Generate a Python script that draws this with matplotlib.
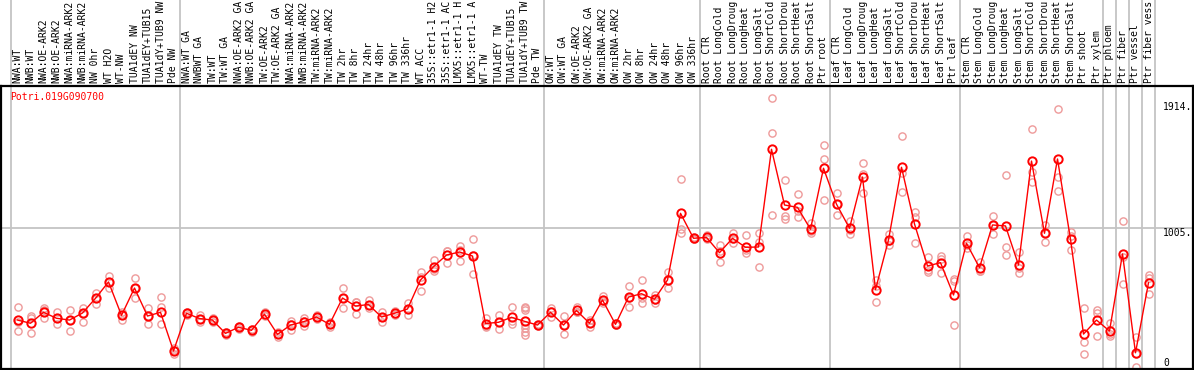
import matplotlib
matplotlib.use("Agg")
import matplotlib.pyplot as plt
import matplotlib.transforms as mtransforms

# sample names (truncated the way the chart shows them)
samples = [
    "NWA:WT", "NWB:WT", "NWA:OE-ARK2", "NWB:OE-ARK2", "NWA:miRNA-ARK2", "NWB:miRNA-ARK2",
    "NW 0hr", "WT H2O", "WT-NW", "TUA1dEY NW", "TUA1dEY+TUB15", "TUA1dY+TUB9 NW", "Pde NW",
    "NWA:WT GA", "NWBWT GA", "TW:WT", "TW:WT GA", "NWA:OE-ARK2 GA", "NWB:OE-ARK2 GA",
    "TW:OE-ARK2", "TW:OE-ARK2 GA", "NWA:miRNA-ARK2", "NWB:miRNA-ARK2", "TW:miRNA-ARK2",
    "TW:miRNA-ARK2", "TW 2hr", "TW 8hr", "TW 24hr", "TW 48hr", "TW 96hr", "TW 336hr",
    "WT ACC", "35S::etr1-1 H2", "35S::etr1-1 AC", "LMX5::etr1-1 H", "LMX5::etr1-1 A",
    "WT-TW", "TUA1dEY TW", "TUA1dEY+TUB15", "TUA1dY+TUB9 TW", "Pde TW",
    "OW:WT", "OW:WT GA", "OW:OE-ARK2", "OW:OE-ARK2 GA", "OW:miRNA-ARK2", "OW:miRNA-ARK2",
    "OW 2hr", "OW 8hr", "OW 24hr", "OW 48hr", "OW 96hr", "OW 336hr",
    "Root CTR", "Root LongCold", "Root LongDroug", "Root LongHeat", "Root LongSalt",
    "Root ShortCold", "Root ShortDrou", "Root ShortHeat", "Root ShortSalt", "Ptr root",
    "Leaf CTR", "Leaf LongCold", "Leaf LongDroug", "Leaf LongHeat", "Leaf LongSalt",
    "Leaf ShortCold", "Leaf ShortDrou", "Leaf ShortHeat", "Leaf ShortSalt", "Ptr leaf",
    "Stem CTR", "Stem LongCold", "Stem LongDroug", "Stem LongHeat", "Stem LongSalt",
    "Stem ShortCold", "Stem ShortDrou", "Stem ShortHeat", "Stem ShortSalt", "Ptr shoot",
    "Ptr xylem", "Ptr phloem", "Ptr fiber", "Ptr vessel", "Ptr fiber vess",
]

means = [
    343, 320, 399, 356, 343, 394, 500, 618, 377, 574, 372, 399, 120,
    392, 354, 343, 247, 291, 269, 385, 240, 307, 331, 365, 312, 502, 444, 455, 365,
    392, 423, 632, 728, 812, 834, 805, 318, 327, 363, 334, 307,
    399, 307, 412, 320, 488, 312, 509, 533, 493, 632, 1113, 933,
    939, 829, 933, 868, 870, 1575, 1173, 1156, 998, 1438,
    1179, 1005, 1375, 563, 921, 1445, 1036, 733, 757, 524,
    897, 721, 1029, 1022, 740, 1490, 969, 1505, 926, 242, 343,
    264, 820, 107, 612,
]

replicates = [
    [435, 266, 330], [374, 247, 358], [430, 356, 415], [399, 312, 358], [415, 266, 343],
    [432, 331, 394], [536, 457, 502], [661, 572, 618], [401, 343, 379], [644, 500, 574],
    [430, 312, 372], [507, 439, 312], [139, 96, 125],
    [401, 379, 396], [379, 329, 351], [358, 329, 343], [257, 235, 250], [300, 278, 295],
    [278, 257, 272], [401, 372, 383], [257, 221, 242], [338, 271, 312], [358, 300, 335],
    [379, 351, 365], [331, 291, 314], [572, 432, 502], [475, 385, 472], [488, 428, 449],
    [401, 331, 363], [408, 379, 390], [464, 379, 426], [692, 553, 651], [776, 699, 709],
    [843, 752, 841], [879, 771, 852], [928, 673, 814], [356, 295, 303], [379, 276, 326],
    [439, 315, 335], [439, 428, 416, 307, 284, 259, 235], [300, 314, 307],
    [428, 363, 406], [374, 242, 305], [435, 401, 400], [343, 295, 322], [517, 464, 483],
    [322, 307, 307], [589, 439, 499], [632, 464, 503], [524, 464, 491], [692, 572, 632],
    [1361, 998, 973], [930, 925, 945],
    [957, 926, 935], [884, 760, 843], [969, 901, 929], [957, 849, 825], [973, 908, 724],
    [1943, 1690, 1101], [1353, 1094, 1070], [1250, 1089, 1130], [1041, 969, 985],
    [1606, 1503, 1209],
    [1257, 1101, 1179], [1058, 962, 995], [1474, 1397, 1257], [632, 471, 586],
    [964, 884, 915], [1671, 1402, 1265], [1125, 1089, 897], [800, 692, 707],
    [805, 680, 786], [637, 307, 628],
    [949, 861, 881], [764, 699, 700], [1094, 964, 1029], [1389, 872, 812], [836, 716, 680],
    [1719, 1413, 1337], [1029, 908, 970], [1863, 1377, 1274], [980, 848, 950],
    [432, 183, 96], [416, 392, 228],
    [320, 228, 245], [1058, 800, 603], [223, 2, 96], [668, 644, 531],
]

# gray separators between tissue groups (between sample indices)
group_breaks = [-0.5, 12.5, 40.5, 52.5, 62.5, 72.5, 83.5, 84.5, 85.5, 86.5, 87.5]
scale_values = [1914, 1005, 0]
gene = "Potri.019G090700"

mono = "DejaVu Sans Mono"
W, H = 1194, 370
fig = plt.figure(figsize=(W / 100, H / 100), dpi=100)
top_px, bot_px = 85.5, 369
ax = fig.add_axes([1 / W, (H - bot_px) / H, 1192 / W, (bot_px - top_px) / H])

ax.set_xlim((1 - 17.5) / 13, (1193 - 17.5) / 13)
ax.set_ylim(-10, 2035)
ax.set_xticks([])
ax.set_yticks([])
for s in ax.spines.values():
    s.set_color("black")
    s.set_linewidth(1.6)

ext = 1 + top_px / (bot_px - top_px)
for b in group_breaks:
    ax.axvline(b, ymin=0, ymax=ext, clip_on=False, color="#c4c4c4", lw=1.3, zorder=0)
ax.axhline(1005, color="#c4c4c4", lw=1.3, zorder=0)

x = list(range(len(samples)))
for i, reps in enumerate(replicates):
    ax.plot([i] * len(reps), reps, "o", mfc="none", mec="#ee9a9a", ms=5.2, mew=1.0, zorder=2)
ax.plot(x, means, "-", color="#ff0000", lw=1.0, zorder=3)
ax.plot(x, means, "o", mfc="none", mec="#ff0000", ms=6, mew=1.4, zorder=4)

trans = mtransforms.blended_transform_factory(ax.transData, ax.transAxes)
for i, name in enumerate(samples):
    ax.text(i, 1 + 2.5 / (bot_px - top_px), name, transform=trans, rotation=90,
            ha="center", va="bottom", fontsize=7, family=mono, clip_on=False)

xs = (1163 - 17.5) / 13
for v in scale_values:
    ax.text(xs, v, "%d." % v if v else "0", ha="left", va="top" if v else "bottom",
            fontsize=7, family=mono)

fig.text(10 / W, 1 - 97.3 / H, gene, color="#ff0000", va="center", fontsize=7, family=mono)

fig.savefig("out.png", dpi=100)
